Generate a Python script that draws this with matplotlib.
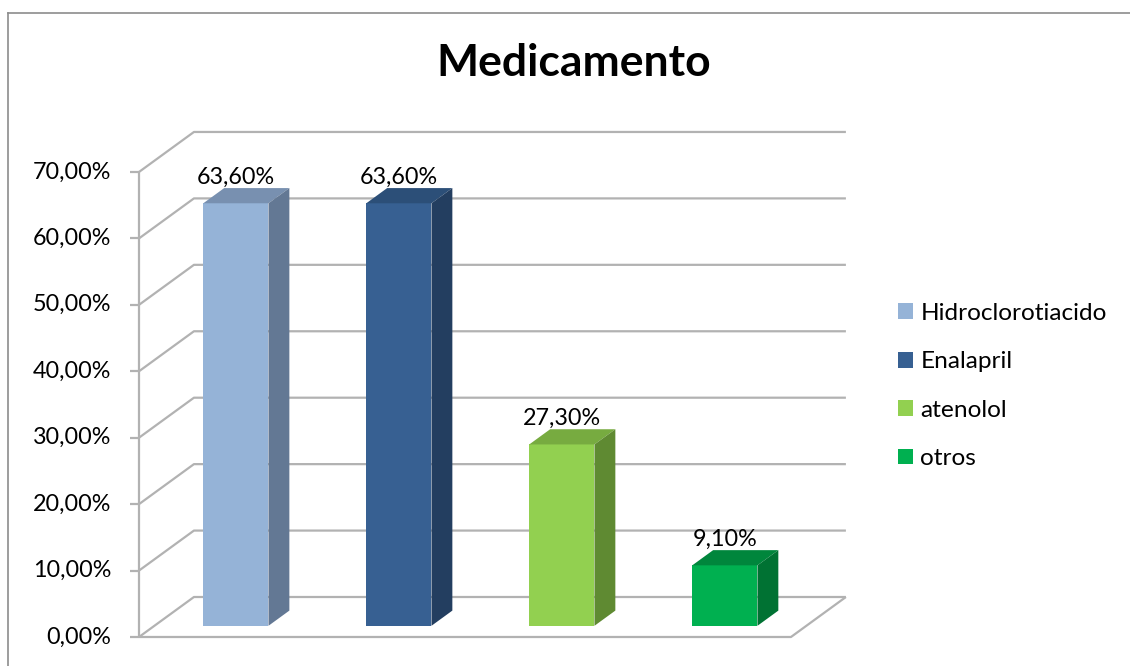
import matplotlib.pyplot as plt
from matplotlib.patches import Polygon, Patch
import numpy as np

# data
categories = ["Hidroclorotiacido", "Enalapril", "atenolol", "otros"]
values = [63.6, 63.6, 27.3, 9.1]
value_labels = ["63,60%", "63,60%", "27,30%", "9,10%"]
y_ticks = [0, 10, 20, 30, 40, 50, 60, 70]
tick_labels = ["0,00%", "10,00%", "20,00%", "30,00%", "40,00%", "50,00%", "60,00%", "70,00%"]

front_colors = ["#95B3D7", "#376092", "#92D050", "#00B050"]
side_colors = ["#637894", "#233E60", "#5F8A32", "#007233"]
top_colors = ["#7890B0", "#2C4F78", "#77AB40", "#00863C"]

grid_col = "#B2B2B2"
plt.rcParams['font.family'] = ['Lato', 'DejaVu Sans']

# oblique depth offset (full floor depth) in data units
DX = 0.337
DY = 6.02
d0, d1 = 0.28, 0.66   # bar depth range
w = 0.4

fig = plt.figure(figsize=(11.3, 6.66), dpi=100)
ax = fig.add_axes([0.1086, 0.0236, 0.6635, 0.798])
ax.set_xlim(-0.6, 4.0)
ax.set_ylim(-2, 78)
ax.axis('off')

x0, x1 = -0.5, len(categories) - 0.5
gkw = dict(color=grid_col, lw=1.6, solid_capstyle='butt', zorder=1)

# walls / gridlines
for v in y_ticks:
    ax.plot([x0, x0 + DX, x1 + DX], [v, v + DY, v + DY], **gkw)
# floor
ax.plot([x0, x1, x1 + DX], [0, 0, DY], **gkw)
# front value axis + ticks
ax.plot([x0, x0], [0, 70], **gkw)
for v, lab in zip(y_ticks, tick_labels):
    ax.plot([x0 - 0.055, x0], [v, v], **gkw)
    ax.text(x0 - 0.17, v, lab, ha='right', va='center', fontsize=16.8, color='black')

# bars: front faces
xs = np.arange(len(categories))
ax.bar(xs + d0 * DX, values, width=w, bottom=d0 * DY, color=front_colors, zorder=3)

for i, v in enumerate(values):
    l = i - w / 2
    r = i + w / 2
    top = [(l + d0 * DX, v + d0 * DY), (r + d0 * DX, v + d0 * DY),
           (r + d1 * DX, v + d1 * DY), (l + d1 * DX, v + d1 * DY)]
    side = [(r + d0 * DX, d0 * DY), (r + d1 * DX, d1 * DY),
            (r + d1 * DX, v + d1 * DY), (r + d0 * DX, v + d0 * DY)]
    ax.add_patch(Polygon(top, closed=True, fc=top_colors[i], ec='none', zorder=3))
    ax.add_patch(Polygon(side, closed=True, fc=side_colors[i], ec='none', zorder=3))
    ax.annotate(value_labels[i], (i + d0 * DX, v + d0 * DY), xytext=(0, 19),
                textcoords='offset points', ha='center', va='center', fontsize=16.8)

fig.text(574 / 1130, 1 - 63 / 666, "Medicamento", ha='center', va='center',
         fontsize=32, fontweight='bold')

handles = [Patch(facecolor=c, edgecolor='none') for c in front_colors]
fig.legend(handles, categories, loc='upper left', bbox_to_anchor=(898 / 1130, 1 - 303 / 666),
           frameon=False, fontsize=17.6, handlelength=0.62, handleheight=0.62,
           handletextpad=0.3, labelspacing=1.12, borderpad=0, borderaxespad=0)

# chart border
fig.add_artist(plt.Line2D([8 / 1130, 8 / 1130], [0, 1 - 13 / 666], color='#8C8C8C', lw=1.2))
fig.add_artist(plt.Line2D([8 / 1130, 1], [1 - 13 / 666, 1 - 13 / 666], color='#8C8C8C', lw=1.2))

fig.savefig("out.png", dpi=100)
